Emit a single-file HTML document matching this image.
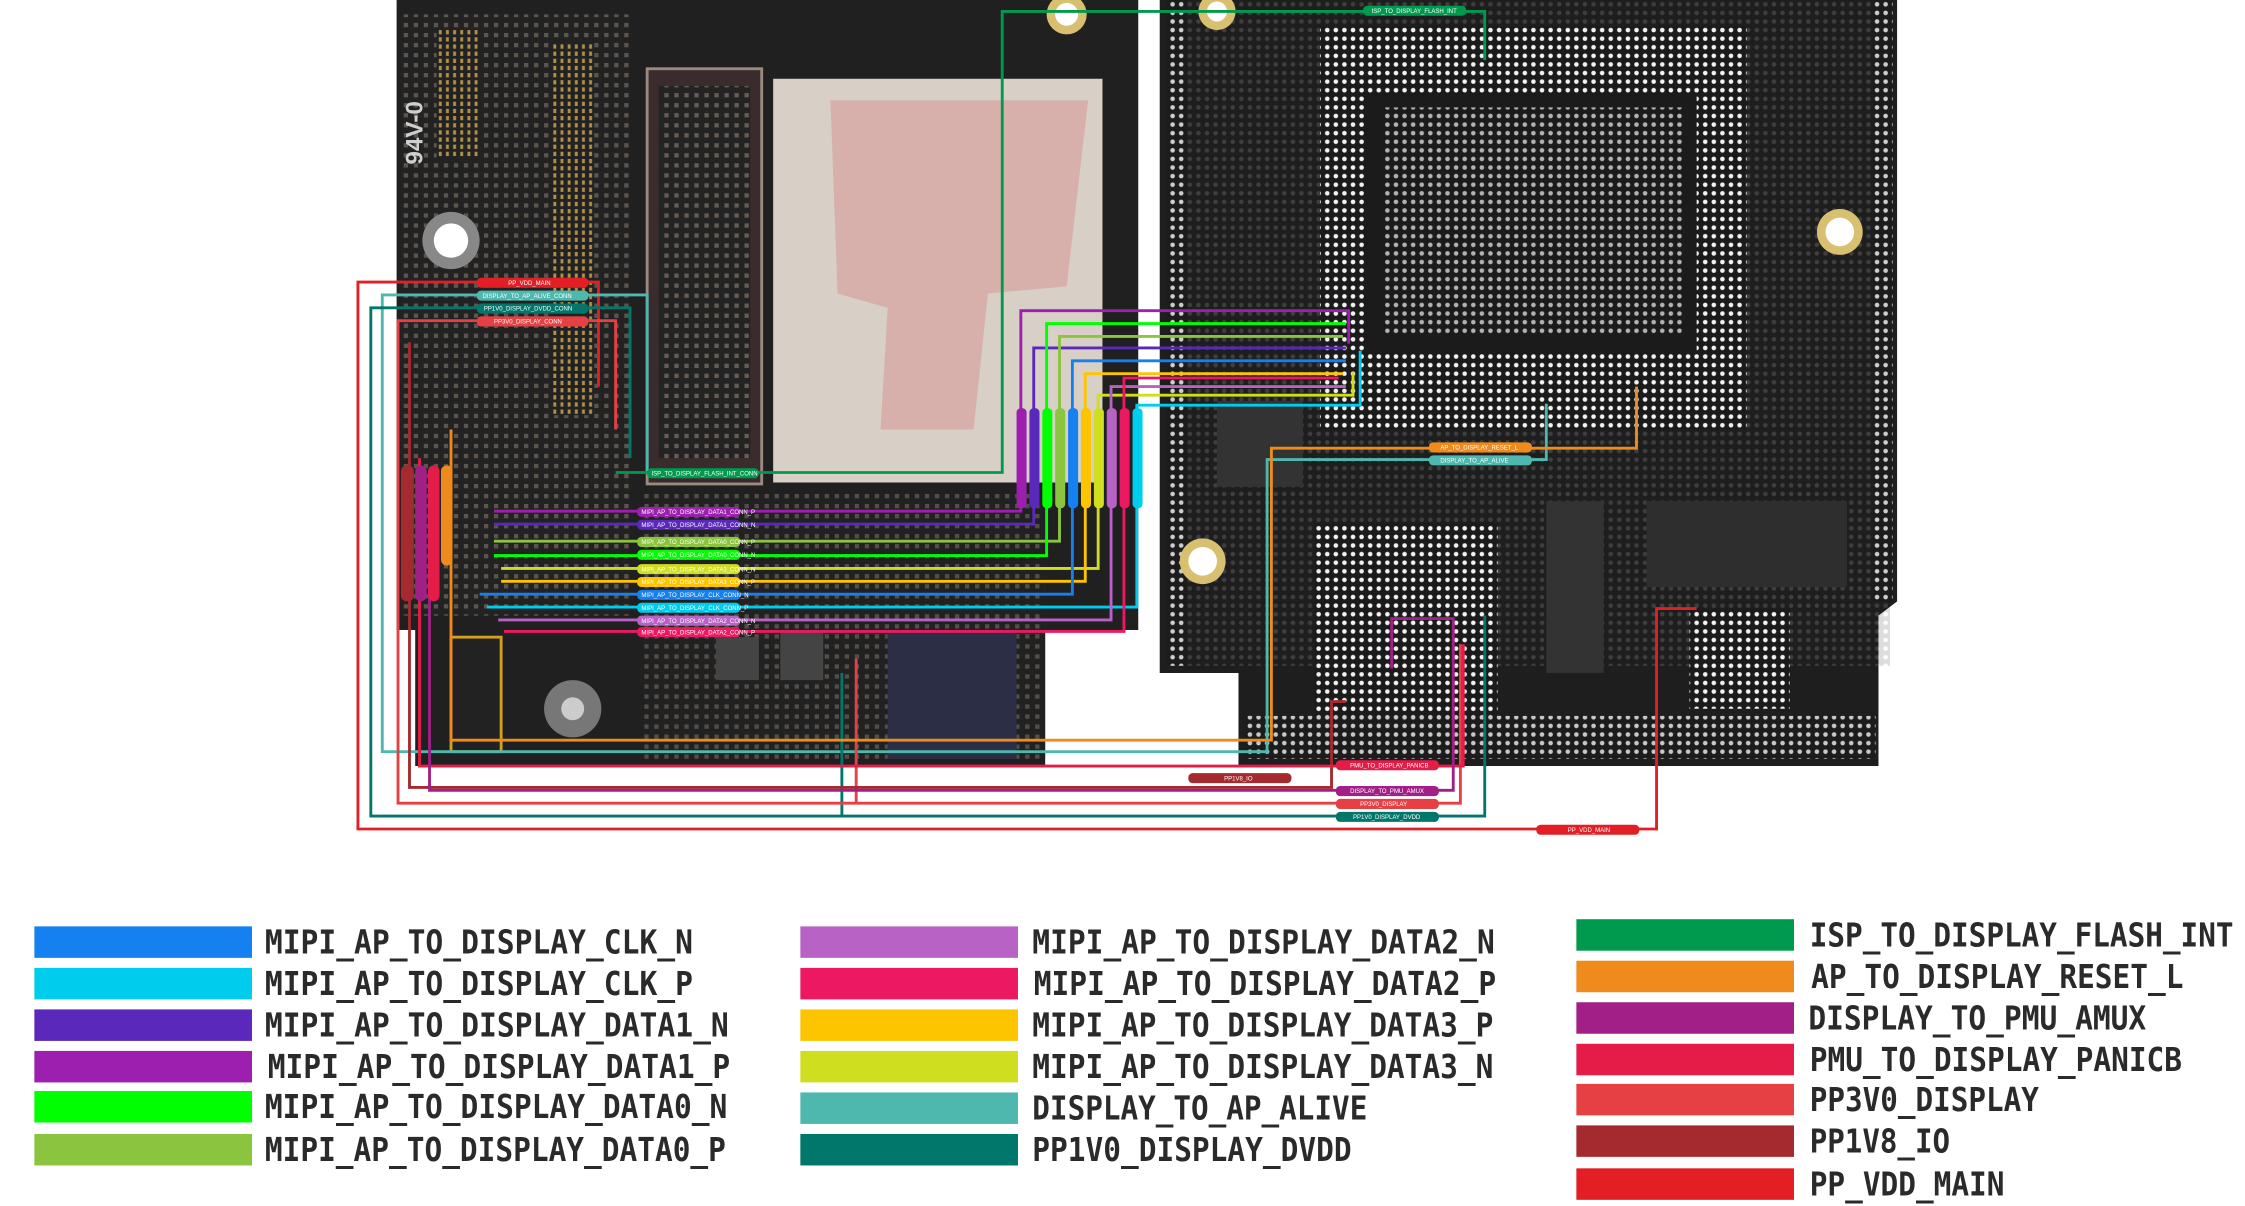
<!DOCTYPE html>
<html><head><meta charset="utf-8"><style>
html,body{margin:0;padding:0;background:#fff;width:2245px;height:1206px;overflow:hidden}
svg{display:block}
.lg{font-family:"DejaVu Sans Mono","Liberation Mono",monospace;font-weight:bold;font-size:23px;fill:#2a2a2a}
.pl{font-family:"Liberation Sans",sans-serif;font-size:4.2px;fill:#fff}
</style></head><body>
<svg width="2245" height="1206" viewBox="0 0 1568 842.3" xmlns="http://www.w3.org/2000/svg">
<defs>
<pattern id="dots" width="6" height="6" patternUnits="userSpaceOnUse"><rect width="6" height="6" fill="#1b1b1b"/><circle cx="3" cy="3" r="1.6" fill="#f2f2f2"/></pattern>
<pattern id="gdots" width="7" height="7" patternUnits="userSpaceOnUse"><rect width="7" height="7" fill="#222"/><rect x="2" y="2" width="3" height="3" fill="#6a625a"/></pattern>
<pattern id="cdots" width="5" height="5" patternUnits="userSpaceOnUse"><rect width="5" height="5" fill="#222"/><rect x="1.5" y="1" width="2" height="3" fill="#b0904a"/></pattern>
</defs>
<!-- left board -->
<rect x="277" y="0" width="518" height="440" fill="#202020"/>
<rect x="290" y="430" width="440" height="105" fill="#202020"/>
<rect x="280" y="10" width="160" height="420" fill="url(#gdots)" opacity=".8"/>
<rect x="305" y="20" width="30" height="90" fill="url(#cdots)"/>
<rect x="385" y="30" width="30" height="260" fill="url(#cdots)"/>
<circle cx="315" cy="168" r="20" fill="#888"/><circle cx="315" cy="168" r="12" fill="#fff"/>
<circle cx="400" cy="495" r="20" fill="#777"/><circle cx="400" cy="495" r="8" fill="#ccc"/>
<rect x="452" y="48" width="80" height="290" fill="#3a2c2c" stroke="#9a8a80" stroke-width="2"/>
<rect x="460" y="60" width="64" height="260" fill="url(#gdots)" opacity=".9"/>
<rect x="540" y="55" width="230" height="282" fill="#d8cfc6"/>
<path d="M580 70 L760 70 L745 200 L690 205 L680 300 L615 300 L620 215 L585 205 Z" fill="#d98a8a" opacity=".45"/>
<rect x="450" y="345" width="280" height="185" fill="url(#gdots)" opacity=".7"/>
<rect x="500" y="445" width="30" height="30" fill="#444"/><rect x="545" y="440" width="30" height="35" fill="#444"/>
<rect x="620" y="440" width="90" height="90" fill="#2b2e44"/>
<rect x="315" y="445" width="35" height="80" fill="#222" stroke="#d4a020" stroke-width="2"/>
<text x="295" y="115" transform="rotate(-90 295 115)" font-family="Liberation Sans" font-size="17" font-weight="bold" fill="#cfcfcf">94V-0</text>
<!-- right board -->
<path d="M810 0 H1325 V420 L1312 430 V535 H865 V470 H810 Z" fill="#1e1e1e"/>
<rect x="815" y="0" width="505" height="465" fill="url(#dots)" opacity=".15"/>
<rect x="815" y="0" width="14" height="465" fill="url(#dots)" opacity=".8"/>
<rect x="1308" y="0" width="14" height="420" fill="url(#dots)" opacity=".8"/>
<rect x="922" y="18" width="298" height="282" fill="url(#dots)"/>
<rect x="955" y="65" width="230" height="180" fill="#1b1b1b"/>
<rect x="965" y="75" width="210" height="160" fill="url(#dots)" opacity=".7"/>
<rect x="918" y="365" width="128" height="135" fill="url(#dots)"/>
<rect x="1180" y="425" width="70" height="70" fill="url(#dots)"/>
<rect x="1150" y="350" width="140" height="60" fill="#2e2e2e"/>
<rect x="870" y="500" width="440" height="30" fill="url(#dots)" opacity=".8"/>
<circle cx="1285" cy="162" r="16" fill="#d8c070"/><circle cx="1285" cy="162" r="10" fill="#fff"/>
<circle cx="840" cy="392" r="16" fill="#d8c070"/><circle cx="840" cy="392" r="10" fill="#fff"/>
<circle cx="745" cy="10" r="14" fill="#d8c070"/><circle cx="745" cy="10" r="8" fill="#fff"/>
<circle cx="850" cy="8" r="13" fill="#d8c070"/><circle cx="850" cy="8" r="7" fill="#fff"/>
<rect x="850" y="280" width="60" height="60" fill="#333"/>
<rect x="1080" y="350" width="40" height="120" fill="#333"/>

<g fill="none" stroke-width="2">
<polyline stroke="#e31e25" points="340,197 250,197 250,579 1157,579 1157,425 1185,425"/>
<polyline stroke="#e31e25" points="410,197 418,197 418,270"/>
<polyline stroke="#4fb8ae" points="340,206 267,206 267,525 885,525 885,321 1080,321 1080,282"/>
<polyline stroke="#4fb8ae" points="410,206 452,206 452,330"/>
<polyline stroke="#00776a" points="340,215 259,215 259,570 1037,570 1037,430"/>
<polyline stroke="#00776a" points="588,470 588,570"/>
<polyline stroke="#00776a" points="410,215 440,215 440,320"/>
<polyline stroke="#e64045" points="340,224 278,224 278,561 1020,561 1020,450"/>
<polyline stroke="#e64045" points="410,224 430,224 430,300"/>
<polyline stroke="#e64045" points="598,460 598,561"/>
<polyline stroke="#a52a30" points="285,240 286,240 286,550 930,550 930,490 940,490"/>
<polyline stroke="#e51c48" points="293,320 293,535 1022,535 1022,450"/>
<polyline stroke="#a11f86" points="300,330 300,552 1015,552 1015,432 972,432 972,467"/>
<polyline stroke="#ef8a1d" points="315,300 315,517 888,517 888,313 1143,313 1143,270"/>
<polyline stroke="#009a4e" points="430,330 700,330 700,8 1037,8 1037,42"/>
<polyline stroke="#9c1fb0" points="345,357 713,357 713,217 942,217 942,240"/>
<polyline stroke="#5a28bb" points="345,366 722,366 722,243 940,243"/>
<polyline stroke="#8bc43f" points="345,378 740,378 740,235 938,235"/>
<polyline stroke="#00ff00" points="345,388 731,388 731,226 940,226"/>
<polyline stroke="#cfdf20" points="350,397 767,397 767,276 945,276 945,260"/>
<polyline stroke="#fdc400" points="350,406 758,406 758,261 938,261"/>
<polyline stroke="#1580f0" points="335,415 749,415 749,252 940,252"/>
<polyline stroke="#00cdee" points="340,424 794,424 794,283 950,283 950,245"/>
<polyline stroke="#b862c6" points="348,433 776,433 776,270 940,270"/>
<polyline stroke="#ec1862" points="352,441 785,441 785,264 935,264"/>
</g>
<g>
<rect x="710" y="285" width="7" height="70" rx="3" fill="#9c1fb0"/>
<rect x="719" y="285" width="7" height="70" rx="3" fill="#5a28bb"/>
<rect x="728" y="285" width="7" height="70" rx="3" fill="#00ff00"/>
<rect x="737" y="285" width="7" height="70" rx="3" fill="#8bc43f"/>
<rect x="746" y="285" width="7" height="70" rx="3" fill="#1580f0"/>
<rect x="755" y="285" width="7" height="70" rx="3" fill="#fdc400"/>
<rect x="764" y="285" width="7" height="70" rx="3" fill="#cfdf20"/>
<rect x="773" y="285" width="7" height="70" rx="3" fill="#b862c6"/>
<rect x="782" y="285" width="7" height="70" rx="3" fill="#ec1862"/>
<rect x="791" y="285" width="7" height="70" rx="3" fill="#00cdee"/>
</g>
<g>
<rect x="445" y="354" width="72" height="7" rx="3" fill="#9c1fb0"/><text class="pl" x="448" y="359">MIPI_AP_TO_DISPLAY_DATA1_CONN_P</text>
<rect x="445" y="363" width="72" height="7" rx="3" fill="#5a28bb"/><text class="pl" x="448" y="368">MIPI_AP_TO_DISPLAY_DATA1_CONN_N</text>
<rect x="445" y="375" width="72" height="7" rx="3" fill="#8bc43f"/><text class="pl" x="448" y="380">MIPI_AP_TO_DISPLAY_DATA0_CONN_P</text>
<rect x="445" y="384" width="72" height="7" rx="3" fill="#00ff00"/><text class="pl" x="448" y="389" fill="#000">MIPI_AP_TO_DISPLAY_DATA0_CONN_N</text>
<rect x="445" y="394" width="72" height="7" rx="3" fill="#cfdf20"/><text class="pl" x="448" y="399">MIPI_AP_TO_DISPLAY_DATA3_CONN_N</text>
<rect x="445" y="403" width="72" height="7" rx="3" fill="#fdc400"/><text class="pl" x="448" y="408">MIPI_AP_TO_DISPLAY_DATA3_CONN_P</text>
<rect x="445" y="412" width="72" height="7" rx="3" fill="#1580f0"/><text class="pl" x="448" y="417">MIPI_AP_TO_DISPLAY_CLK_CONN_N</text>
<rect x="445" y="421" width="72" height="7" rx="3" fill="#00cdee"/><text class="pl" x="448" y="426">MIPI_AP_TO_DISPLAY_CLK_CONN_P</text>
<rect x="445" y="430" width="72" height="7" rx="3" fill="#b862c6"/><text class="pl" x="448" y="435">MIPI_AP_TO_DISPLAY_DATA2_CONN_N</text>
<rect x="445" y="438" width="72" height="7" rx="3" fill="#ec1862"/><text class="pl" x="448" y="443">MIPI_AP_TO_DISPLAY_DATA2_CONN_P</text>
<rect x="333" y="194" width="78" height="7" rx="3" fill="#e31e25"/><text class="pl" x="355" y="199">PP_VDD_MAIN</text>
<rect x="333" y="203" width="78" height="7" rx="3" fill="#4fb8ae"/><text class="pl" x="337" y="208">DISPLAY_TO_AP_ALIVE_CONN</text>
<rect x="333" y="212" width="78" height="7" rx="3" fill="#00776a"/><text class="pl" x="338" y="217">PP1V0_DISPLAY_DVDD_CONN</text>
<rect x="333" y="221" width="78" height="7" rx="3" fill="#e64045"/><text class="pl" x="345" y="226">PP3V0_DISPLAY_CONN</text>
<rect x="452" y="327" width="78" height="7" rx="3" fill="#009a4e"/><text class="pl" x="455" y="332">ISP_TO_DISPLAY_FLASH_INT_CONN</text>
<rect x="952" y="4" width="72" height="7" rx="3" fill="#009a4e"/><text class="pl" x="958" y="9">ISP_TO_DISPLAY_FLASH_INT</text>
<rect x="998" y="309" width="72" height="7" rx="3" fill="#ef8a1d"/><text class="pl" x="1006" y="314">AP_TO_DISPLAY_RESET_L</text>
<rect x="998" y="318" width="72" height="7" rx="3" fill="#4fb8ae"/><text class="pl" x="1006" y="323">DISPLAY_TO_AP_ALIVE</text>
<rect x="933" y="531" width="72" height="7" rx="3" fill="#e51c48"/><text class="pl" x="943" y="536">PMU_TO_DISPLAY_PANICB</text>
<rect x="830" y="540" width="72" height="7" rx="3" fill="#a52a30"/><text class="pl" x="855" y="545">PP1V8_IO</text>
<rect x="933" y="549" width="72" height="7" rx="3" fill="#a11f86"/><text class="pl" x="943" y="554">DISPLAY_TO_PMU_AMUX</text>
<rect x="933" y="558" width="72" height="7" rx="3" fill="#e64045"/><text class="pl" x="950" y="563">PP3V0_DISPLAY</text>
<rect x="933" y="567" width="72" height="7" rx="3" fill="#00776a"/><text class="pl" x="945" y="572">PP1V0_DISPLAY_DVDD</text>
<rect x="1073" y="576" width="72" height="7" rx="3" fill="#e31e25"/><text class="pl" x="1095" y="581">PP_VDD_MAIN</text>
<rect x="280" y="325" width="9" height="95" rx="4" fill="#a52a30"/>
<rect x="290" y="325" width="8" height="95" rx="4" fill="#a11f86"/>
<rect x="299" y="325" width="8" height="95" rx="4" fill="#e51c48"/>
<rect x="308" y="325" width="8" height="70" rx="4" fill="#ef8a1d"/>
</g>

<g>
<rect x="24" y="647" width="152" height="22" fill="#1580f0"/>
<rect x="24" y="676" width="152" height="22" fill="#00cdee"/>
<rect x="24" y="705" width="152" height="22" fill="#5a28bb"/>
<rect x="24" y="734" width="152" height="22" fill="#9c1fb0"/>
<rect x="24" y="762" width="152" height="22" fill="#00ff00"/>
<rect x="24" y="792" width="152" height="22" fill="#8bc43f"/>
<rect x="559" y="647" width="152" height="22" fill="#b862c6"/>
<rect x="559" y="676" width="152" height="22" fill="#ec1862"/>
<rect x="559" y="705" width="152" height="22" fill="#fdc400"/>
<rect x="559" y="734" width="152" height="22" fill="#cfdf20"/>
<rect x="559" y="763" width="152" height="22" fill="#4fb8ae"/>
<rect x="559" y="792" width="152" height="22" fill="#00776a"/>
<rect x="1101" y="642" width="152" height="22" fill="#009a4e"/>
<rect x="1101" y="671" width="152" height="22" fill="#ef8a1d"/>
<rect x="1101" y="700" width="152" height="22" fill="#a11f86"/>
<rect x="1101" y="729" width="152" height="22" fill="#e51c48"/>
<rect x="1101" y="757" width="152" height="22" fill="#e64045"/>
<rect x="1101" y="786" width="152" height="22" fill="#a52a30"/>
<rect x="1101" y="816" width="152" height="22" fill="#e31e25"/>
<text class="lg" x="185" y="666" textLength="299" lengthAdjust="spacingAndGlyphs">MIPI_AP_TO_DISPLAY_CLK_N</text>
<text class="lg" x="185" y="695" textLength="299" lengthAdjust="spacingAndGlyphs">MIPI_AP_TO_DISPLAY_CLK_P</text>
<text class="lg" x="185" y="724" textLength="324" lengthAdjust="spacingAndGlyphs">MIPI_AP_TO_DISPLAY_DATA1_N</text>
<text class="lg" x="187" y="753" textLength="323" lengthAdjust="spacingAndGlyphs">MIPI_AP_TO_DISPLAY_DATA1_P</text>
<text class="lg" x="185" y="781" textLength="323" lengthAdjust="spacingAndGlyphs">MIPI_AP_TO_DISPLAY_DATA0_N</text>
<text class="lg" x="185" y="811" textLength="322" lengthAdjust="spacingAndGlyphs">MIPI_AP_TO_DISPLAY_DATA0_P</text>
<text class="lg" x="721" y="666" textLength="323" lengthAdjust="spacingAndGlyphs">MIPI_AP_TO_DISPLAY_DATA2_N</text>
<text class="lg" x="722" y="695" textLength="323" lengthAdjust="spacingAndGlyphs">MIPI_AP_TO_DISPLAY_DATA2_P</text>
<text class="lg" x="721" y="724" textLength="322" lengthAdjust="spacingAndGlyphs">MIPI_AP_TO_DISPLAY_DATA3_P</text>
<text class="lg" x="721" y="753" textLength="322" lengthAdjust="spacingAndGlyphs">MIPI_AP_TO_DISPLAY_DATA3_N</text>
<text class="lg" x="721" y="782" textLength="234" lengthAdjust="spacingAndGlyphs">DISPLAY_TO_AP_ALIVE</text>
<text class="lg" x="721" y="811" textLength="223" lengthAdjust="spacingAndGlyphs">PP1V0_DISPLAY_DVDD</text>
<text class="lg" x="1264" y="661" textLength="296" lengthAdjust="spacingAndGlyphs">ISP_TO_DISPLAY_FLASH_INT</text>
<text class="lg" x="1265" y="690" textLength="260" lengthAdjust="spacingAndGlyphs">AP_TO_DISPLAY_RESET_L</text>
<text class="lg" x="1263" y="719" textLength="236" lengthAdjust="spacingAndGlyphs">DISPLAY_TO_PMU_AMUX</text>
<text class="lg" x="1264" y="748" textLength="260" lengthAdjust="spacingAndGlyphs">PMU_TO_DISPLAY_PANICB</text>
<text class="lg" x="1264" y="776" textLength="160" lengthAdjust="spacingAndGlyphs">PP3V0_DISPLAY</text>
<text class="lg" x="1264" y="805" textLength="98" lengthAdjust="spacingAndGlyphs">PP1V8_IO</text>
<text class="lg" x="1264" y="835" textLength="136" lengthAdjust="spacingAndGlyphs">PP_VDD_MAIN</text>
</g>
</svg>
</body></html>
